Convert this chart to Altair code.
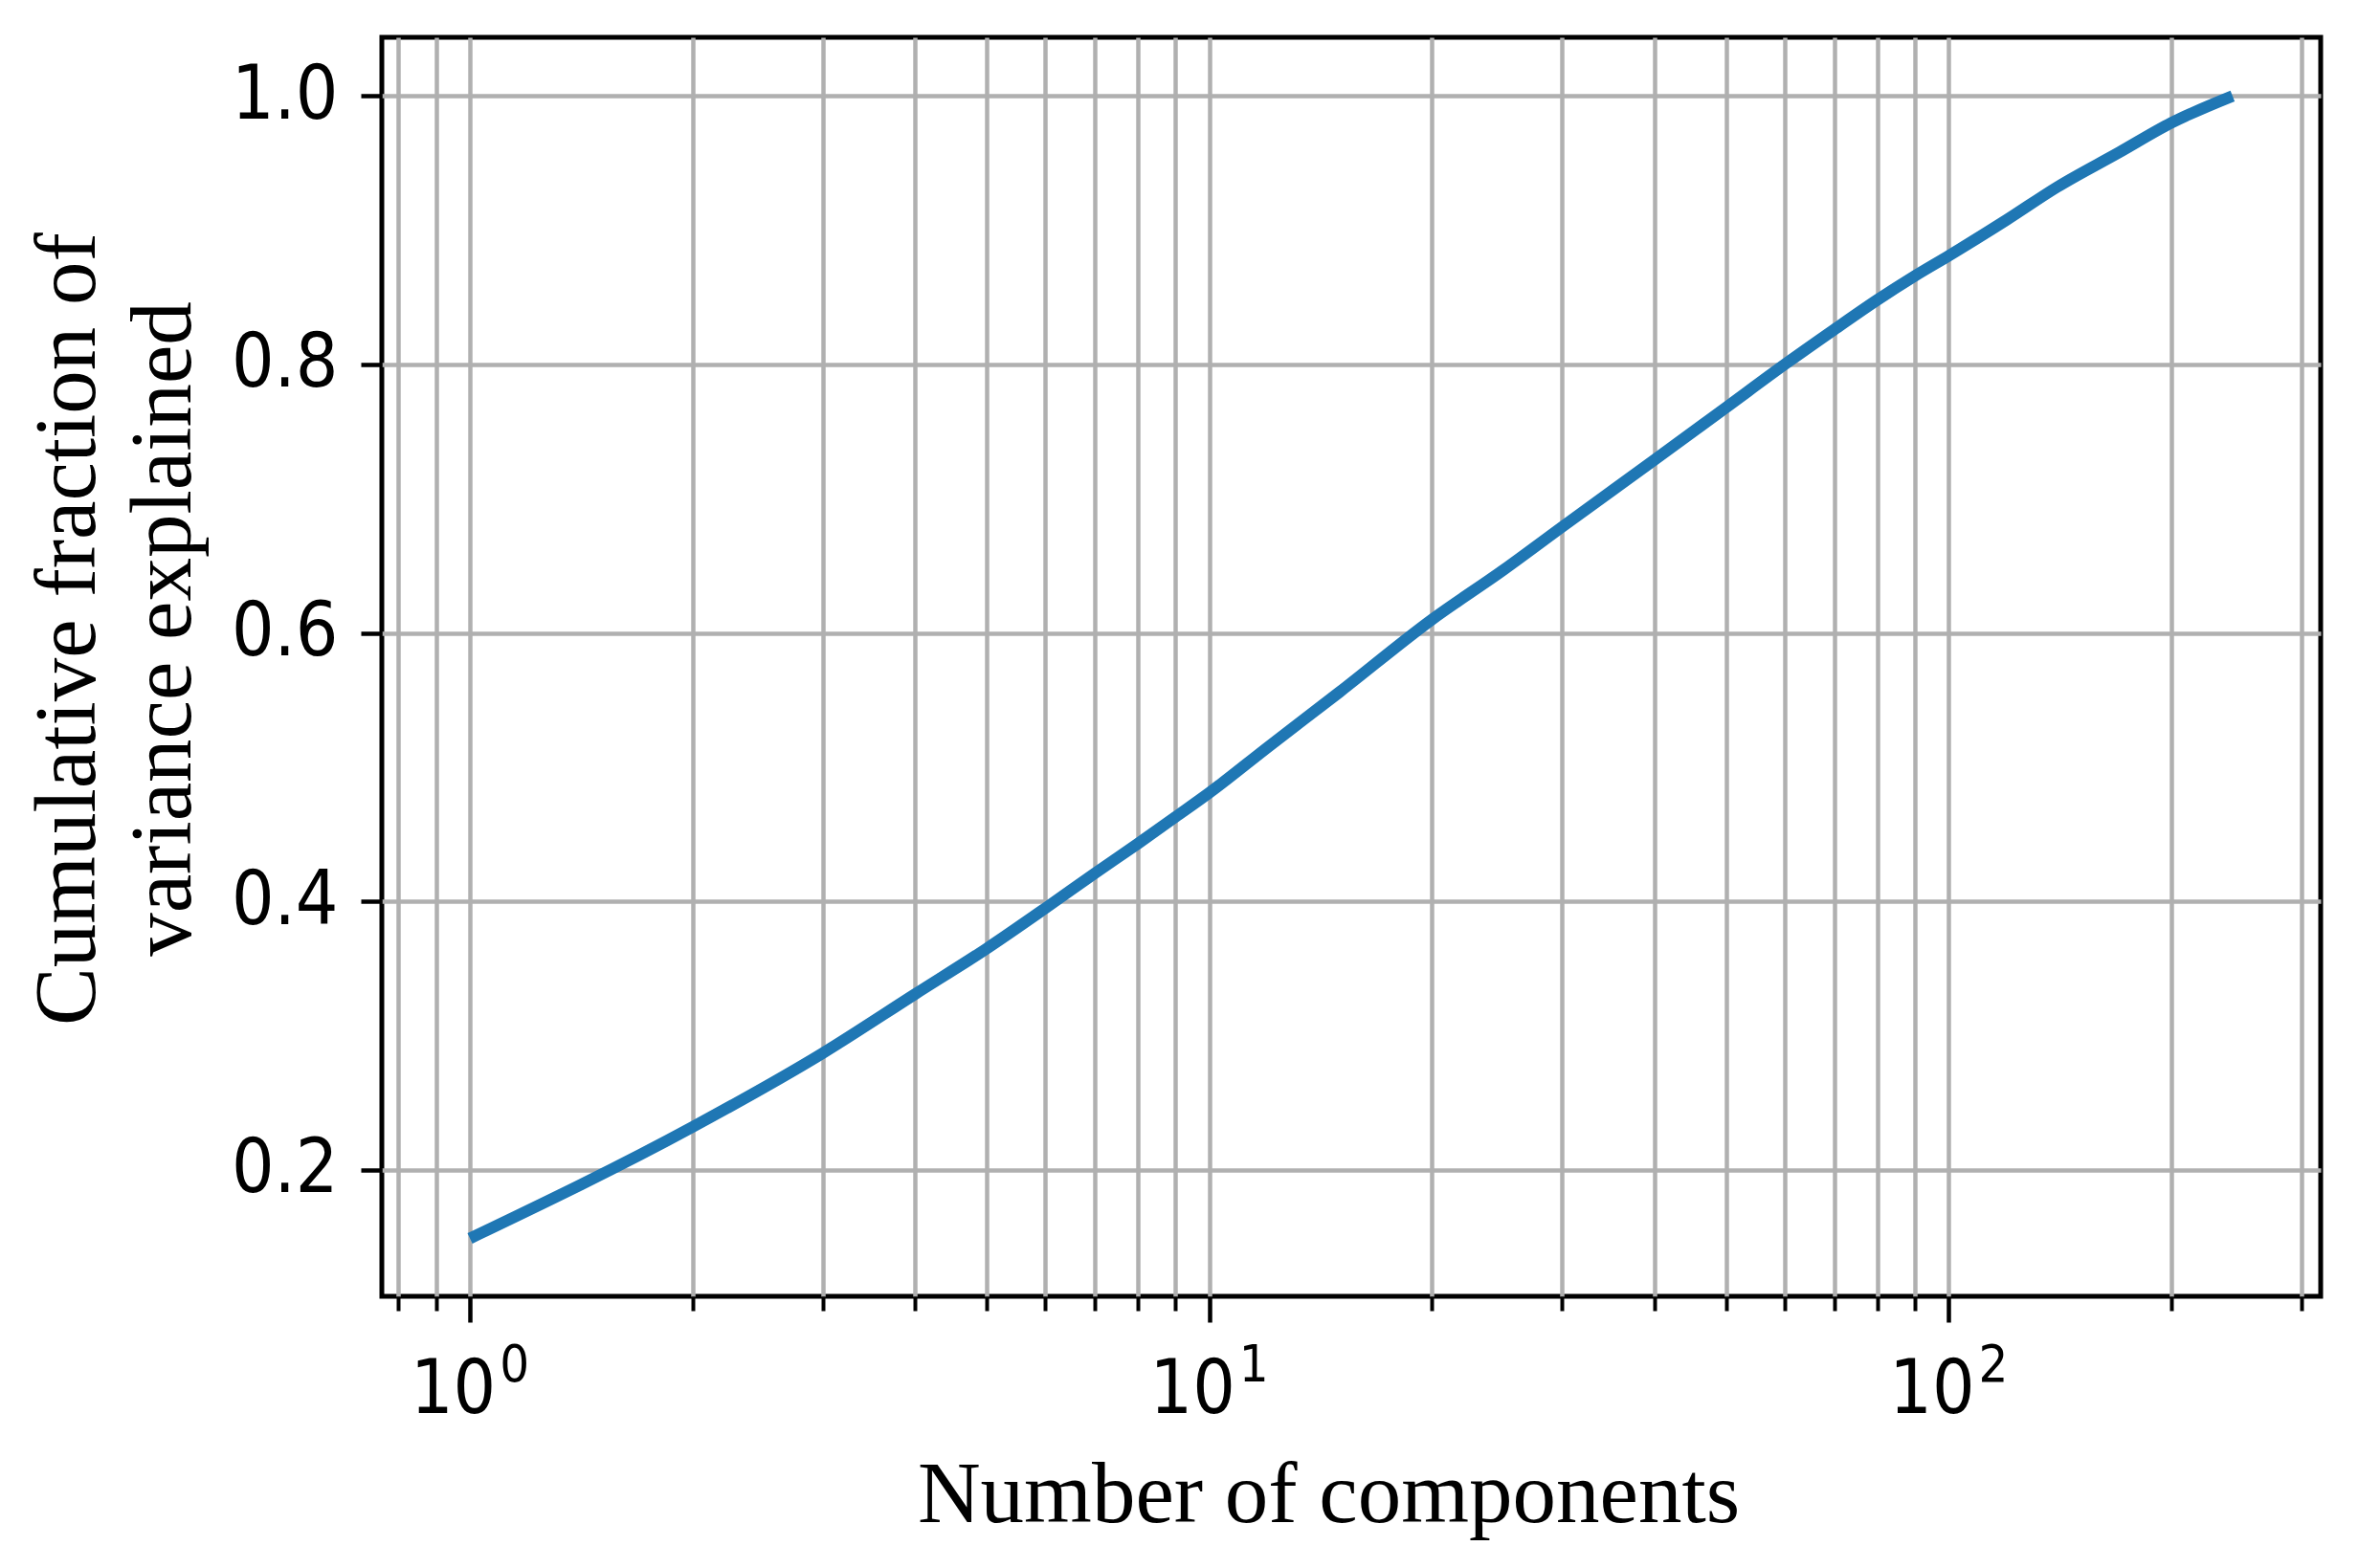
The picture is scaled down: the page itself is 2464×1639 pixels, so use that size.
import altair as alt
import pandas as pd

# ---- data ----
n_components = [1, 2, 3, 4, 5, 6, 7, 8, 9, 10, 12, 15, 20, 25, 30, 40, 50, 60,
                70, 80, 90, 100, 120, 140, 170, 200, 242]
cum_fraction = [0.149, 0.232, 0.287, 0.331, 0.365, 0.395, 0.421, 0.443, 0.463,
                0.481, 0.515, 0.556, 0.610, 0.647, 0.679, 0.729, 0.768, 0.800,
                0.826, 0.848, 0.866, 0.881, 0.908, 0.932, 0.958, 0.980, 1.000]
y_ticks = [0.2, 0.4, 0.6, 0.8, 1.0]
x_major = [1, 10, 100]
x_minor = [0.8, 0.9, 2, 3, 4, 5, 6, 7, 8, 9, 20, 30, 40, 50, 60, 70, 80, 90, 200, 300]
x_title = "Number of components"
y_title = ["Cumulative fraction of", "variance explained"]

df = pd.DataFrame({"n": n_components, "v": cum_fraction})

SANS = "DejaVu Sans Condensed, DejaVu Sans"
SERIF = "Liberation Serif"
GRID = "#b0b0b0"

xscale = alt.Scale(type="log", domain=[0.76, 318.4], nice=False)
yscale = alt.Scale(domain=[0.1059, 1.0437], nice=False, zero=False)

x_major_axis = alt.Axis(
    orient="bottom", values=x_major, labelExpr="'10'", grid=True,
    gridColor=GRID, gridWidth=4.5, domain=False, ticks=True, tickSize=27,
    tickWidth=4.5, tickColor="black", labelFont=SANS, labelFontSize=78,
    labelColor="black", labelBaseline="alphabetic", labelPadding=94,
    labelOffset=-18, labelFlush=False, labelOverlap=False,
    title=x_title, titleFont=SERIF, titleFontSize=91, titleFontWeight="normal",
    titleColor="black", titleX=989, titleY=235, titleAlign="center",
    titleBaseline="alphabetic",
)
x_minor_axis = alt.Axis(
    orient="bottom", values=x_minor, labels=False, grid=True, gridColor=GRID,
    gridWidth=4.5, domain=False, ticks=True, tickSize=15, tickWidth=4,
    tickColor="black", title=None,
)
x_exp_axis = alt.Axis(
    orient="bottom", values=x_major,
    labelExpr="'' + round(log(datum.value) / LN10)", grid=False, domain=False,
    ticks=True, tickSize=0, tickOpacity=0, labelFont=SANS, labelFontSize=54,
    labelColor="black", labelBaseline="alphabetic", labelPadding=88,
    labelOffset=46, labelFlush=False, labelOverlap=False, title=None,
)
y_axis = alt.Axis(
    values=y_ticks, format=".1f", grid=True, gridColor=GRID, gridWidth=4.5,
    domain=False, ticks=True, tickSize=22, tickWidth=4.5, tickColor="black",
    labelFont=SANS, labelFontSize=78, labelColor="black", labelPadding=24,
    labelBaseline="middle", labelFlush=False, labelOverlap=False,
    title=y_title, titleFont=SERIF, titleFontSize=91, titleFontWeight="normal",
    titleColor="black", titleLineHeight=100, titleAngle=270, titleX=-301,
    titleY=618, titleAlign="center", titleBaseline="alphabetic",
)

base = alt.Chart(df)

line = base.mark_line(color="#1f77b4", strokeWidth=12, interpolate="monotone",
                      strokeCap="butt").encode(
    x=alt.X("n:Q", scale=xscale, axis=x_major_axis),
    y=alt.Y("v:Q", scale=yscale, axis=y_axis),
)
minor = base.mark_line(opacity=0).encode(
    x=alt.X("n:Q", scale=xscale, axis=x_minor_axis),
    y=alt.Y("v:Q", scale=yscale, axis=None),
)
expo = base.mark_line(opacity=0).encode(
    x=alt.X("n:Q", scale=xscale, axis=x_exp_axis),
    y=alt.Y("v:Q", scale=yscale, axis=None),
)

chart = alt.layer(minor, expo, line).resolve_axis(
    x="independent", y="independent"
).properties(
    width=2026, height=1316,
    autosize=alt.AutoSizeParams(type="none"),
    padding={"left": 391, "top": 31, "right": 20, "bottom": 270},
    background="white",
).configure_view(
    stroke="black", strokeWidth=5, fill="white"
)

chart.save("out.html", embed_options={"renderer": "svg", "actions": False})
